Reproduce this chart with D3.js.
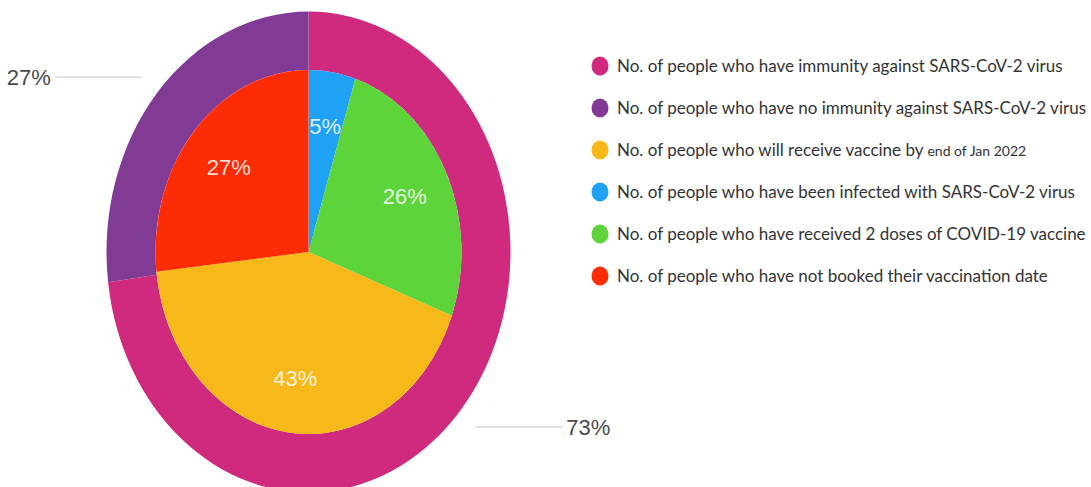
<!DOCTYPE html>
<html>
<head>
<meta charset="utf-8">
<script src="https://cdn.jsdelivr.net/npm/d3@7"></script>
<style>
  html, body { margin: 0; padding: 0; background: #ffffff; }
  svg { display: block; }
</style>
</head>
<body>
<svg id="chart" width="1091" height="487"></svg>
<script>
// Outer ring: immunity status
const ringLabels = ["No. of people who have immunity against SARS-CoV-2 virus",
                    "No. of people who have no immunity against SARS-CoV-2 virus"];
const ringValues = [73, 27];
const ringColors = ["#cf2a7e", "#823b94"];

// Inner pie: breakdown
const pieLabels = ["No. of people who have been infected with SARS-CoV-2 virus",
                   "No. of people who have received 2 doses of COVID-19 vaccine",
                   "No. of people who will receive vaccine by end of Jan 2022",
                   "No. of people who have not booked their vaccination date"];
const pieValues = [5, 26, 43, 27];
const pieColors = ["#1fa2f3", "#5dd439", "#f7b819", "#fd2c04"];

// Legend order
const legendLabels = [ringLabels[0], ringLabels[1], pieLabels[2], pieLabels[0], pieLabels[1], pieLabels[3]];
const legendColors = [ringColors[0], ringColors[1], pieColors[2], pieColors[0], pieColors[1], pieColors[3]];

const svg = d3.select("#chart");
const cx = 308.5, cy = 252, squash = 1.19;
const rInner = 153, rOuter = 202;

const pie = d3.pie().sort(null).value(d => d);
const ringArcs = pie(ringValues);
const pieArcs = pie(pieValues);

const g = svg.append("g").attr("transform", `translate(${cx},${cy}) scale(1,${squash})`);

const ringArc = d3.arc().innerRadius(rInner).outerRadius(rOuter);
const pieArc = d3.arc().innerRadius(0).outerRadius(rInner);

g.selectAll("path.ring").data(ringArcs).join("path")
  .attr("class", "ring")
  .attr("d", ringArc)
  .attr("fill", (d, i) => ringColors[i]);

g.selectAll("path.slice").data(pieArcs).join("path")
  .attr("class", "slice")
  .attr("d", pieArc)
  .attr("fill", (d, i) => pieColors[i]);

// Percent labels inside the pie
const labelArc = d3.arc().innerRadius(rInner * 0.7).outerRadius(rInner * 0.7);
svg.selectAll("text.pct").data(pieArcs).join("text")
  .attr("class", "pct")
  .attr("x", d => cx + labelArc.centroid(d)[0])
  .attr("y", d => cy + labelArc.centroid(d)[1] * squash)
  .attr("dy", "0.36em")
  .attr("text-anchor", "middle")
  .attr("font-family", "'Liberation Sans', Arial, sans-serif")
  .attr("font-size", 22)
  .attr("fill", "#ffffff")
  .attr("fill-opacity", 0.85)
  .text(d => d.value + "%");

// Outer ring labels with leader lines
const leadArc = d3.arc().innerRadius(rOuter * 1.1).outerRadius(rOuter * 1.1);
const lineLen = 87;
ringArcs.forEach((d, i) => {
  const [px, py0] = leadArc.centroid(d);
  const x0 = cx + px, y0 = cy + py0 * squash;
  const dir = px >= 0 ? 1 : -1;
  svg.append("line")
    .attr("x1", x0).attr("y1", y0)
    .attr("x2", x0 + dir * lineLen).attr("y2", y0)
    .attr("stroke", "#cfcfcf").attr("stroke-width", 1.3);
  svg.append("text")
    .attr("x", x0 + dir * (lineLen + 4))
    .attr("y", y0)
    .attr("dy", "0.36em")
    .attr("text-anchor", dir > 0 ? "start" : "end")
    .attr("font-family", "'Liberation Sans', Arial, sans-serif")
    .attr("font-size", 22)
    .attr("fill", "#4a4a4a")
    .text(d.value + "%");
});

// Legend
const legend = svg.append("g").attr("transform", "translate(600,66)");
const rows = legend.selectAll("g.row").data(legendLabels).join("g")
  .attr("class", "row")
  .attr("transform", (d, i) => `translate(0,${i * 42})`);

rows.append("ellipse")
  .attr("rx", 8.5).attr("ry", 9.5)
  .attr("fill", (d, i) => legendColors[i]);

rows.append("text")
  .attr("x", 17)
  .attr("dy", "0.36em")
  .attr("font-family", "Lato, 'Noto Sans', sans-serif")
  .attr("font-size", 17)
  .attr("fill", "#333333")
  .each(function(d) {
    const t = d3.select(this);
    const split = d.indexOf(" end of ");
    if (split >= 0) {
      t.append("tspan").text(d.slice(0, split + 1));
      t.append("tspan").attr("font-size", 14).text(d.slice(split + 1));
    } else {
      t.text(d);
    }
  });
</script>
</body>
</html>
